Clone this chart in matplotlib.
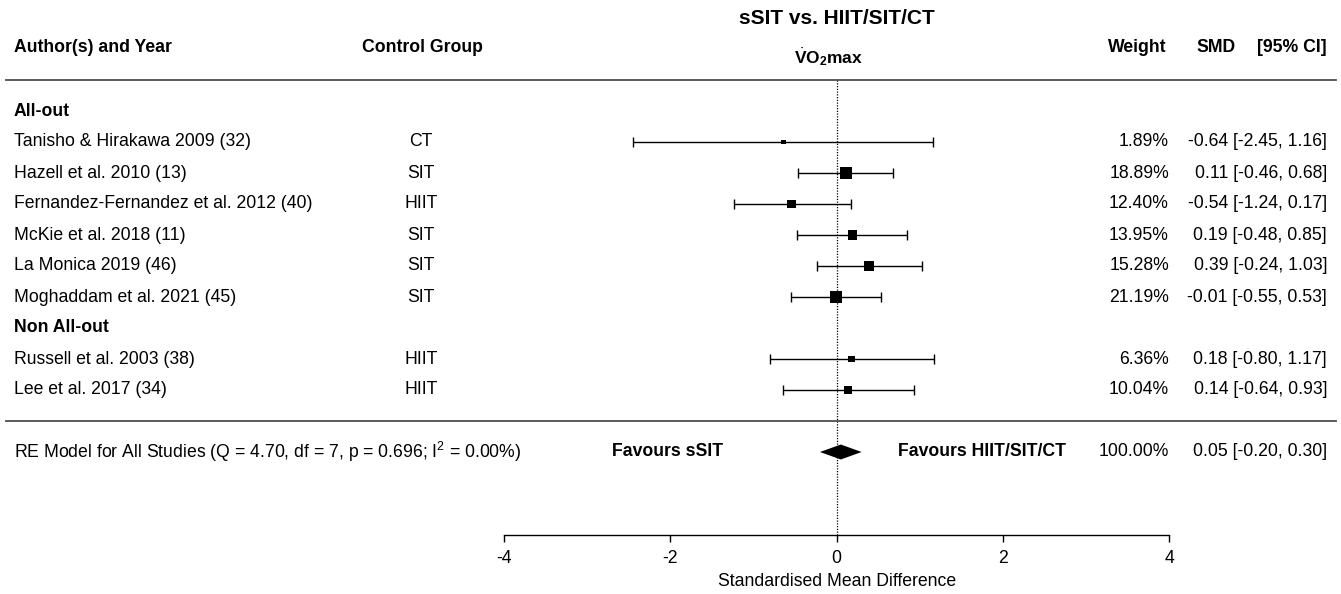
import matplotlib
matplotlib.use("Agg")
import matplotlib.pyplot as plt
import numpy as np

# ---------------- data ----------------
studies = ["Tanisho & Hirakawa 2009 (32)", "Hazell et al. 2010 (13)",
           "Fernandez-Fernandez et al. 2012 (40)", "McKie et al. 2018 (11)",
           "La Monica 2019 (46)", "Moghaddam et al. 2021 (45)",
           "Russell et al. 2003 (38)", "Lee et al. 2017 (34)"]
controls = ["CT", "SIT", "HIIT", "SIT", "SIT", "SIT", "HIIT", "HIIT"]
weights = [1.89, 18.89, 12.40, 13.95, 15.28, 21.19, 6.36, 10.04]
smd = [-0.64, 0.11, -0.54, 0.19, 0.39, -0.01, 0.18, 0.14]
ci_lo = [-2.45, -0.46, -1.24, -0.48, -0.24, -0.55, -0.80, -0.64]
ci_hi = [1.16, 0.68, 0.17, 0.85, 1.03, 0.53, 1.17, 0.93]
rows = [0, 1, 2, 3, 4, 5, 7, 8]
group_labels = ["All-out", "Non All-out"]
group_rows = [-1, 6]
pooled = 0.05
pooled_lo = -0.20
pooled_hi = 0.30
pooled_weight = 100.00
re_label = r"RE Model for All Studies (Q = 4.70, df = 7, p = 0.696; I$^2$ = 0.00%)"
xticks = [-4, -2, 0, 2, 4]

# ---------------- style ----------------
plt.rcParams['font.family'] = ['Liberation Sans', 'DejaVu Sans']
plt.rcParams['mathtext.fontset'] = 'custom'
plt.rcParams['mathtext.rm'] = 'Liberation Sans'
plt.rcParams['mathtext.it'] = 'Liberation Sans:italic'
plt.rcParams['mathtext.bf'] = 'Liberation Sans:bold'

W, H = 1341, 594
fig = plt.figure(figsize=(W / 100, H / 100), dpi=100)
axis_px = 535.0
ax = fig.add_axes([0, 1 - axis_px / H, 1, axis_px / H])

x_m4, x_p4 = 504.0, 1169.3
ppu = (x_p4 - x_m4) / 8.0
ax.set_xlim(-4 - x_m4 / ppu, 4 + (W - x_p4) / ppu)
row0_px, row_h = 142.0, 31.0
ax.set_ylim((axis_px - row0_px) / row_h, (0 - row0_px) / row_h)


def fx(px):
    return px / W


def ky(px):
    return (px - row0_px) / row_h


tr = ax.get_yaxis_transform()
FS = 12.7

# headers
ax.text(0.5 * (fx(738) + fx(935)), ky(18), "sSIT vs. HIIT/SIT/CT", transform=tr,
        ha='center', va='center', fontsize=15, fontweight='bold')
ax.text(fx(829), ky(57), r"$\dot{\mathbf{V}}\mathbf{O}_{\mathbf{2}}\mathbf{max}$",
        transform=tr, ha='center', va='center', fontsize=12.5)
ax.text(fx(14), ky(48), "Author(s) and Year", transform=tr, ha='left', va='center',
        fontsize=FS, fontweight='bold')
ax.text(fx(362), ky(48), "Control Group", transform=tr, ha='left', va='center',
        fontsize=FS, fontweight='bold')
ax.text(fx(1166), ky(48), "Weight", transform=tr, ha='right', va='center',
        fontsize=FS, fontweight='bold')
ax.text(fx(1196), ky(48), "SMD", transform=tr, ha='left', va='center',
        fontsize=FS, fontweight='bold')
ax.text(fx(1327), ky(48), "[95% CI]", transform=tr, ha='right', va='center',
        fontsize=FS, fontweight='bold')

# separators
for yy in [-2, 9]:
    ax.axhline(yy, xmin=fx(6), xmax=fx(1336), color='#4d4d4d', lw=1.3)

# reference line
ax.plot([0, 0], [-2, ax.get_ylim()[0]], color='black', lw=0.9,
        linestyle=(0, (1, 1.2)), zorder=1)

# group headers
for lab, r in zip(group_labels, group_rows):
    ax.text(fx(14), r, lab, transform=tr, ha='left', va='center',
            fontsize=FS, fontweight='bold')

# study rows
smd_a = np.array(smd)
lo_a = np.array(ci_lo)
hi_a = np.array(ci_hi)
ax.errorbar(smd_a, rows, xerr=[smd_a - lo_a, hi_a - smd_a], fmt='none',
            ecolor='black', elinewidth=1.0, capsize=3.3, capthick=1.0, zorder=2)
w = np.array(weights)
sz_px = 4.5 + (w - w.min()) / (w.max() - w.min()) * 8.0
ax.scatter(smd_a, rows, marker='s', s=(sz_px * 0.72) ** 2, color='black',
           linewidths=0, zorder=3)

for name, ctl, wt, m, l, h, r in zip(studies, controls, weights, smd, ci_lo, ci_hi, rows):
    ax.text(fx(14), r, name, transform=tr, ha='left', va='center', fontsize=FS)
    ax.text(fx(421), r, ctl, transform=tr, ha='center', va='center', fontsize=FS)
    ax.text(fx(1169), r, f"{wt:.2f}%", transform=tr, ha='right', va='center', fontsize=FS)
    ax.text(fx(1327), r, f"{m:.2f} [{l:.2f}, {h:.2f}]", transform=tr, ha='right',
            va='center', fontsize=FS)

# pooled
re_row = 10
half = 7.5 / row_h
ax.fill([pooled_lo, pooled, pooled_hi, pooled],
        [re_row, re_row - half, re_row, re_row + half], color='black', lw=0, zorder=3)
ax.text(fx(14), re_row, re_label, transform=tr, ha='left', va='center', fontsize=FS)
ax.text(fx(667.5), re_row, "Favours sSIT", transform=tr, ha='center', va='center',
        fontsize=FS, fontweight='bold')
ax.text(fx(982), re_row, "Favours HIIT/SIT/CT", transform=tr, ha='center', va='center',
        fontsize=FS, fontweight='bold')
ax.text(fx(1169), re_row, f"{pooled_weight:.2f}%", transform=tr, ha='right',
        va='center', fontsize=FS)
ax.text(fx(1327), re_row, f"{pooled:.2f} [{pooled_lo:.2f}, {pooled_hi:.2f}]",
        transform=tr, ha='right', va='center', fontsize=FS)

# axis
for s in ['top', 'left', 'right']:
    ax.spines[s].set_visible(False)
ax.spines['bottom'].set_bounds(-4, 4)
ax.spines['bottom'].set_linewidth(1.0)
ax.set_xticks(xticks)
ax.set_xticklabels([str(t) for t in xticks])
ax.tick_params(axis='x', direction='out', length=5, width=1.0, labelsize=FS, pad=6)
ax.set_yticks([])
ax.text(0, ky(582), "Standardised Mean Difference", ha='center', va='center',
        fontsize=FS, clip_on=False)
ax.patch.set_alpha(0)

fig.savefig("out.png", dpi=100)
